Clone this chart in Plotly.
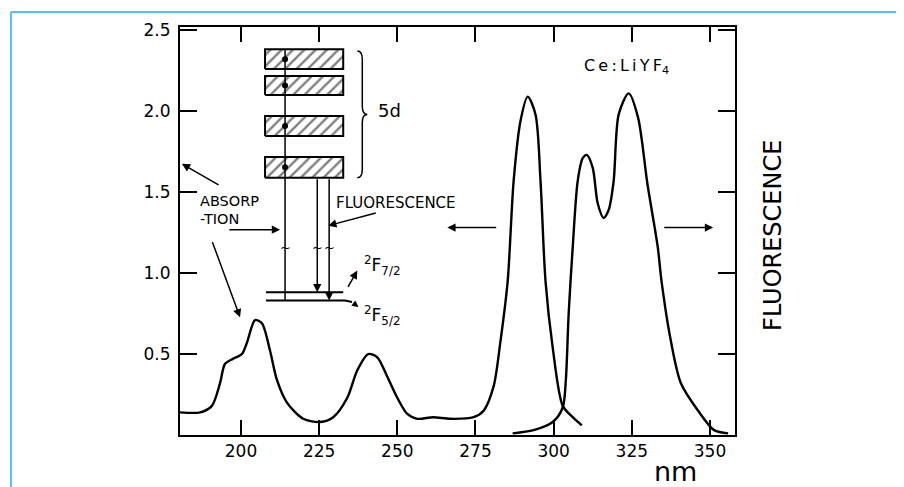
import plotly.graph_objects as go

# ---- data ----
abs_nm = [180.5, 187, 190.7, 193.3, 194.9, 197.4, 200.3, 201.9, 204.5, 206.7, 209.3, 211.5,
          214.7, 219.9, 225.3, 229.5, 234, 237.2, 240.7, 243.6, 246.8, 250, 253.2, 256.4,
          261.5, 267, 274.4, 277.6, 280.8, 283, 285.3, 287.2, 289.4, 291.7, 294.2, 295.8,
          297.4, 299.7, 302.9, 306.1, 309]
abs_val = [0.14, 0.14, 0.18, 0.32, 0.44, 0.47, 0.50, 0.57, 0.71, 0.69, 0.52, 0.34,
           0.20, 0.10, 0.08, 0.11, 0.23, 0.40, 0.50, 0.48, 0.36, 0.23, 0.13, 0.10,
           0.11, 0.10, 0.11, 0.15, 0.30, 0.58, 0.95, 1.57, 1.94, 2.09, 1.98, 1.57,
           0.95, 0.54, 0.18, 0.11, 0.06]

fl_nm = [286.9, 293.6, 299.7, 302.9, 303.9, 304.8, 306.1, 307.7, 309.3, 310.6, 312.5, 314.1,
         316, 317.6, 319.2, 320.8, 324, 327, 330, 333.3, 334.5, 337.5, 340.7, 346.2, 351.3, 355.8]
fl_val = [0.01, 0.03, 0.08, 0.17, 0.34, 0.75, 1.16, 1.57, 1.71, 1.73, 1.65, 1.43,
          1.34, 1.39, 1.57, 1.98, 2.11, 1.96, 1.55, 1.16, 0.95, 0.58, 0.32, 0.15, 0.03, 0.01]

x_ticks = [200, 225, 250, 275, 300, 325, 350]
y_ticks = [0.5, 1.0, 1.5, 2.0, 2.5]
y_tick_text = ["0.5", "1.0", "1.5", "2.0", "2.5"]

# energy-level diagram (5d bands) in data units
band_x = (207.7, 232.7)
band_y = [(2.26, 2.383), (2.10, 2.217), (1.847, 1.97), (1.589, 1.717)]
abs_line_x = 214.1
fl_line_x = [224.4, 228.2]
lvl_72 = 0.881
lvl_52 = 0.831

BLACK = "black"
fig = go.Figure()

fig.add_trace(go.Scatter(x=abs_nm, y=abs_val, mode="lines",
                         line=dict(color=BLACK, width=2.4, shape="spline", smoothing=0.8),
                         hoverinfo="skip", showlegend=False))
fig.add_trace(go.Scatter(x=fl_nm, y=fl_val, mode="lines",
                         line=dict(color=BLACK, width=2.4, shape="spline", smoothing=0.8),
                         hoverinfo="skip", showlegend=False))

for (y0, y1) in band_y:
    fig.add_trace(go.Scatter(
        x=[band_x[0], band_x[1], band_x[1], band_x[0], band_x[0]],
        y=[y0, y0, y1, y1, y0], mode="lines", fill="toself",
        fillcolor="white",
        fillpattern=dict(shape="/", fgcolor=BLACK, bgcolor="white", size=8, solidity=0.3),
        line=dict(color=BLACK, width=2), hoverinfo="skip", showlegend=False))

fig.add_trace(go.Scatter(x=[abs_line_x] * 4, y=[(a + b) / 2 for a, b in band_y],
                         mode="markers", marker=dict(color=BLACK, size=6),
                         hoverinfo="skip", showlegend=False))

shapes = []
shapes.append(dict(type="line", xref="x", yref="y", x0=abs_line_x, x1=abs_line_x,
                   y0=band_y[0][1], y1=lvl_52, line=dict(color=BLACK, width=1.5)))
shapes.append(dict(type="line", xref="x", yref="y", x0=208.0, x1=232.7, y0=lvl_72, y1=lvl_72,
                   line=dict(color=BLACK, width=2)))
shapes.append(dict(type="path", xref="x", yref="y",
                   path=f"M 208.0,{lvl_52} L 233.3,{lvl_52} L 235.5,{lvl_52 - 0.01}",
                   line=dict(color=BLACK, width=2)))
shapes.append(dict(type="path", xref="x", yref="y",
                   path="M 237.2,2.371 Q 238.8,2.371 238.8,2.32 L 238.8,2.03 Q 238.8,1.98 240.4,1.98 "
                        "Q 238.8,1.98 238.8,1.93 L 238.8,1.64 Q 238.8,1.589 237.2,1.589",
                   line=dict(color=BLACK, width=1.5)))
shapes.append(dict(type="line", xref="paper", yref="paper", x0=-0.3045, x1=1.31,
                   y0=1.0366, y1=1.0366, line=dict(color="#55c4ee", width=2)))
shapes.append(dict(type="line", xref="paper", yref="paper", x0=-0.3045, x1=-0.3045,
                   y0=1.0366, y1=-0.2, line=dict(color="#55c4ee", width=2)))

F = "DejaVu Sans"
ann = []

def arrow(xh, yh, xt, yt, w=1.5):
    ann.append(dict(x=xh, y=yh, ax=xt, ay=yt, xref="x", yref="y", axref="x", ayref="y",
                    text="", showarrow=True, arrowhead=2, arrowsize=1.1, arrowwidth=w,
                    arrowcolor=BLACK, standoff=0, startstandoff=0))

def label(x, y, text, size=13, anchor="left", xref="x", yref="y", angle=0):
    ann.append(dict(x=x, y=y, xref=xref, yref=yref, text=text, showarrow=False,
                    xanchor=anchor, yanchor="middle", textangle=angle,
                    font=dict(family=F, size=size, color=BLACK)))

arrow(fl_line_x[0], lvl_72, fl_line_x[0], band_y[3][0])
arrow(fl_line_x[1], lvl_52, fl_line_x[1], band_y[3][0])
arrow(181.1, 1.675, 193.3, 1.539)
arrow(199.7, 0.727, 190.7, 1.20)
arrow(212.5, 1.268, 195.8, 1.268)
arrow(227.9, 1.293, 243.6, 1.373)
arrow(266.0, 1.281, 282.1, 1.281)
arrow(351.0, 1.281, 334.9, 1.281)
arrow(237.2, 1.016, 234.0, 0.905)
arrow(237.6, 0.790, 235.5, lvl_52 - 0.01, w=1.2)

TS = "\u2009"
label(186.2, 1.447, "ABSORP", size=14.5)
label(186.2, 1.336, "-TION", size=14.5)
label(229.8, 1.435, "FLUORESCENCE", size=15)
label(243.3, 2.007, "5d", size=18)
label(238.6, 1.047, "<sup>2</sup>F<sub>7/2</sub>", size=17)
label(238.6, 0.739, "<sup>2</sup>F<sub>5/2</sub>", size=17)
label(323.4, 2.278, TS.join("Ce:LiYF") + "<sub>4</sub>", size=16, anchor="center")
for xb in [abs_line_x] + fl_line_x:
    label(xb, 1.158, "~", size=13, anchor="center")
label(0.892, -0.09, "nm", size=27, anchor="center", xref="paper", yref="paper")
label(1.0685, 0.488, "FLUORESCENCE", size=24, anchor="center", xref="paper", yref="paper", angle=-90)

fig.update_layout(
    width=896, height=479,
    margin=dict(l=172, r=169, t=17, b=52),
    paper_bgcolor="white", plot_bgcolor="white",
    showlegend=False,
    shapes=shapes, annotations=ann,
    xaxis=dict(range=[180.5, 358], tickvals=x_ticks, ticktext=[str(v) for v in x_ticks],
               ticks="inside", ticklen=15, tickwidth=1.5, tickcolor=BLACK,
               showline=True, linecolor=BLACK, linewidth=2, mirror="ticks",
               showgrid=False, zeroline=False,
               tickfont=dict(family=F, size=17, color=BLACK)),
    yaxis=dict(range=[0, 2.52], tickvals=y_ticks, ticktext=y_tick_text,
               ticks="inside", ticklen=17, tickwidth=1.5, tickcolor=BLACK,
               showline=True, linecolor=BLACK, linewidth=2, mirror="ticks",
               showgrid=False, zeroline=False, ticklabelstandoff=4,
               tickfont=dict(family=F, size=17, color=BLACK)),
)

fig.write_html("out.html")
